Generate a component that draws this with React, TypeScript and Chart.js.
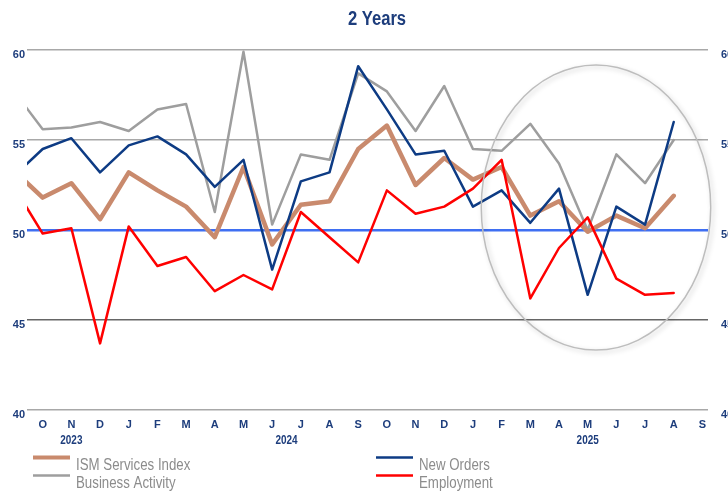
import React, { useEffect, useRef } from 'react';
import { Chart, registerables } from 'chart.js';

Chart.register(...registerables);

// Month tick labels: Oct 2023 .. Sep 2025
const MONTHS = ['O', 'N', 'D', 'J', 'F', 'M', 'A', 'M', 'J', 'J', 'A', 'S', 'O', 'N', 'D', 'J', 'F', 'M', 'A', 'M', 'J', 'J', 'A', 'S'];
const YEARS = ['2023', '2024', '2025'];
const YEAR_FIRST = [0, 3, 15];
const YEAR_LAST = [2, 14, 23];

// Series values: Sep 2023 .. Aug 2025 (Sep 2023 lies just left of the plot and is clipped)
const ISM_SERVICES = [53.3, 51.8, 52.6, 50.6, 53.2, 52.2, 51.3, 49.6, 53.5, 49.2, 51.4, 51.6, 54.5, 55.8, 52.5, 54.0, 52.8, 53.5, 50.8, 51.6, 49.9, 50.8, 50.1, 51.9];
const BUSINESS_ACTIVITY = [57.7, 55.6, 55.7, 56.0, 55.5, 56.7, 57.0, 51.0, 59.9, 50.3, 54.2, 53.9, 58.7, 57.7, 55.5, 58.0, 54.5, 54.4, 55.9, 53.7, 50.0, 54.2, 52.6, 55.0];
const NEW_ORDERS = [53.0, 54.5, 55.1, 53.2, 54.7, 55.2, 54.2, 52.4, 53.9, 47.8, 52.7, 53.2, 59.1, 56.7, 54.2, 54.4, 51.3, 52.2, 50.4, 52.3, 46.4, 51.3, 50.3, 56.0];
const EMPLOYMENT = [52.4, 49.8, 50.1, 43.7, 50.2, 48.0, 48.5, 46.6, 47.5, 46.7, 51.0, 49.6, 48.2, 52.2, 50.9, 51.3, 52.3, 53.9, 46.2, 49.0, 50.7, 47.3, 46.4, 46.5];

const TITLE = '2 Years';
const SERIES_NAMES = ['ISM Services Index', 'Business Activity', 'New Orders', 'Employment'];
const SERIES_COLORS = ['#c98a6d', '#9e9e9e', '#0d3b84', '#ff0000'];
const SERIES_WIDTHS = [4.5, 2.5, 2.5, 2.5];

const Y_MIN = 40;
const Y_MAX = 60;
const Y_STEP = 5;
const THRESHOLD = 50;

const NAVY = '#1d3d7c';
const FONT = '"Liberation Sans Narrow", "Arial Narrow", "Liberation Sans", Arial, sans-serif';
const NARROW = 0.83;

const toPoints = (arr: number[]) => arr.map((v, i) => ({ x: i - 1, y: v }));

function narrowText(ctx: CanvasRenderingContext2D, text: string, x: number, y: number, align: CanvasTextAlign) {
  ctx.save();
  ctx.translate(x, y);
  ctx.scale(NARROW, 1);
  ctx.textAlign = align;
  ctx.fillText(text, 0, 0);
  ctx.restore();
}

const overlayPlugin = {
  id: 'overlay',
  afterDatasetsDraw(chart: any) {
    const { ctx, scales } = chart;
    const x = scales.x;
    const y = scales.y;
    // highlight ellipse around recent months
    const cxv = 19.29, cyv = 51.25;
    const cx = x.getPixelForValue(cxv);
    const cy = y.getPixelForValue(cyv);
    const rx = x.getPixelForValue(cxv + 4.0) - cx;
    const ry = y.getPixelForValue(cyv - 7.92) - cy;
    ctx.save();
    ctx.beginPath();
    ctx.ellipse(cx, cy, Math.abs(rx), Math.abs(ry), 0, 0, Math.PI * 2);
    ctx.strokeStyle = '#bdbdbd';
    ctx.lineWidth = 1.5;
    ctx.shadowColor = 'rgba(0,0,0,0.22)';
    ctx.shadowBlur = 5;
    ctx.shadowOffsetX = 2;
    ctx.shadowOffsetY = 2;
    ctx.stroke();
    ctx.restore();
  },
  afterDraw(chart: any) {
    const { ctx, scales } = chart;
    const x = scales.x;
    ctx.save();
    ctx.textBaseline = 'middle';
    // title
    ctx.font = `bold 20px ${FONT}`;
    ctx.fillStyle = NAVY;
    narrowText(ctx, TITLE, 377, 19, 'center');
    // year labels
    ctx.font = `bold 12px ${FONT}`;
    ctx.fillStyle = NAVY;
    YEARS.forEach((yr, i) => {
      const px = x.getPixelForValue((YEAR_FIRST[i] + YEAR_LAST[i]) / 2);
      narrowText(ctx, yr, px, 441, 'center');
    });
    // legend
    const cols = [33, 376];
    const rows = [457.5, 475.5];
    const order = [[0, 0], [1, 0], [0, 1], [1, 1]]; // [row, col] per series
    ctx.font = `16px ${FONT}`;
    SERIES_NAMES.forEach((name, i) => {
      const [r, c] = order[i];
      const lx = cols[c];
      const ly = rows[r];
      ctx.beginPath();
      ctx.moveTo(lx, ly);
      ctx.lineTo(lx + 37, ly);
      ctx.strokeStyle = SERIES_COLORS[i];
      ctx.lineWidth = i === 0 ? 4 : 2.5;
      ctx.stroke();
      ctx.fillStyle = '#8c8c8c';
      narrowText(ctx, name, lx + 43, ly + 8.5, 'left');
    });
    ctx.restore();
  },
};

export default function App() {
  const canvasRef = useRef<HTMLCanvasElement | null>(null);

  useEffect(() => {
    const canvas = canvasRef.current;
    if (!canvas) return;
    const datasets = [ISM_SERVICES, BUSINESS_ACTIVITY, NEW_ORDERS, EMPLOYMENT].map((arr, i) => ({
      label: SERIES_NAMES[i],
      data: toPoints(arr),
      borderColor: SERIES_COLORS[i],
      backgroundColor: SERIES_COLORS[i],
      borderWidth: SERIES_WIDTHS[i],
      pointRadius: 0,
      pointHoverRadius: 0,
      tension: 0,
      borderJoinStyle: 'round' as const,
      borderCapStyle: 'round' as const,
      fill: false,
      order: [3, 4, 2, 1][i],
    }));

    const tickFont = { family: FONT, size: 11, weight: 'bold' as const };

    const chart = new Chart(canvas, {
      type: 'line',
      data: { datasets },
      plugins: [overlayPlugin],
      options: {
        responsive: false,
        animation: false,
        layout: { padding: { top: 50 } },
        plugins: {
          legend: { display: false },
          tooltip: { enabled: false },
          title: { display: false },
        },
        scales: {
          x: {
            type: 'linear',
            min: -0.547,
            max: 23.195,
            afterBuildTicks: (scale: any) => {
              scale.ticks = MONTHS.map((_, i) => ({ value: i }));
            },
            afterFit: (scale: any) => {
              scale.height = 81;
            },
            grid: { display: false, drawTicks: false },
            border: { display: false },
            ticks: {
              autoSkip: false,
              maxRotation: 0,
              padding: 8,
              color: NAVY,
              font: tickFont,
              callback: (v: any) => MONTHS[Math.round(Number(v))] ?? '',
            },
          },
          y: {
            position: 'left',
            min: Y_MIN,
            max: Y_MAX,
            afterFit: (scale: any) => {
              scale.width = 27;
            },
            border: { display: false },
            grid: {
              drawTicks: false,
              color: (c: any) => (c.tick && c.tick.value === THRESHOLD ? '#3f6ff2' : c.tick && c.tick.value === 45 ? '#666666' : '#a8a8a8'),
              lineWidth: (c: any) => (c.tick && c.tick.value === THRESHOLD ? 2.5 : 1.5),
            },
            ticks: {
              stepSize: Y_STEP,
              padding: 2,
              labelOffset: 5,
              color: NAVY,
              font: tickFont,
            },
          },
          y2: {
            position: 'right',
            min: Y_MIN,
            max: Y_MAX,
            afterFit: (scale: any) => {
              scale.width = 20;
            },
            border: { display: false },
            grid: { display: false, drawTicks: false },
            ticks: {
              stepSize: Y_STEP,
              padding: 13,
              labelOffset: 5,
              color: NAVY,
              font: tickFont,
            },
          },
        },
      },
    } as any);
    return () => chart.destroy();
  }, []);

  return (
    <div style={{ position: 'fixed', left: 0, top: 0, width: 728, height: 491, background: '#fff' }}>
      <canvas ref={canvasRef} width={728} height={491} style={{ display: 'block' }} />
    </div>
  );
}
